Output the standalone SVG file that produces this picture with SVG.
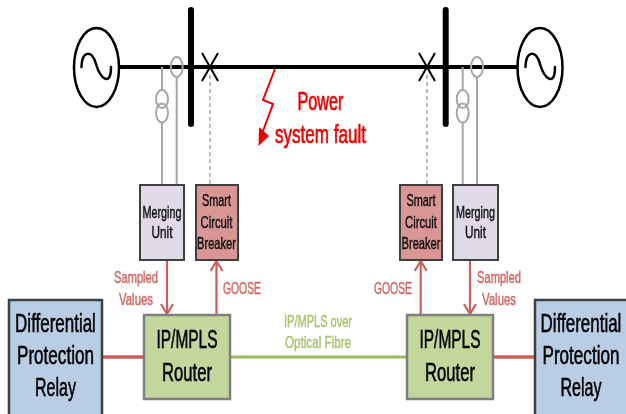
<svg xmlns="http://www.w3.org/2000/svg" width="626" height="414" viewBox="0 0 626 414">
<defs>
<filter id="soft" x="-2%" y="-2%" width="104%" height="104%"><feGaussianBlur stdDeviation="0.45"/></filter>
<marker id="open" viewBox="0 0 14 14" refX="12" refY="7" markerWidth="14" markerHeight="14" markerUnits="userSpaceOnUse" orient="auto"><path d="M2 1 L12 7 L2 13" fill="none" stroke="#c9605c" stroke-width="2.2"/></marker>
</defs>
<style>
text{font-family:"Liberation Sans",Arial,sans-serif;text-anchor:middle}
.gen{fill:#fff;stroke:#000;stroke-width:2.5}
.wave{fill:none;stroke:#000;stroke-width:2.5;stroke-linecap:round}
.bus{stroke:#000;stroke-width:6;stroke-linecap:round}
.line{stroke:#000;stroke-width:4}
.brk{stroke:#000;stroke-width:2}
.ct{fill:none;stroke:#a6a6a6;stroke-width:2}
.ctl{stroke:#a6a6a6;stroke-width:2;fill:none}
.dash{stroke:#a6a6a6;stroke-width:1.5;stroke-dasharray:4 3;fill:none}
.mu{fill:#dfd9e8;stroke:#404040;stroke-width:2}
.cb{fill:#d99694;stroke:#404040;stroke-width:2}
.rt{fill:#c3d69b;stroke:#7f7f7f;stroke-width:2.5}
.rl{fill:#b9cde5;stroke:#404040;stroke-width:2.5}
.arrow{stroke:#c9605c;stroke-width:2.2;fill:none;marker-end:url(#open)}
.red{stroke:#c9605c;stroke-width:3.5}
.grn{stroke:#9bbb59;stroke-width:3}
.t1{font-size:17px;fill:#111;stroke:#111;stroke-width:.45}
.t2{font-size:26px;fill:#000;stroke:#000;stroke-width:.6}
.lr{font-size:17px;fill:#cf6a66;stroke:#cf6a66;stroke-width:.5}
.lg{font-size:17px;fill:#a9c56f;stroke:#a9c56f;stroke-width:.5}
.f{font-size:25px;fill:#f00000;stroke:#f00000;stroke-width:.7}
</style>
<g filter="url(#soft)">
<g id="connectors">
<line class="line" x1="119" y1="67" x2="518" y2="67"/>
<path class="ctl" d="M162 67V90M162 122.500V185M176.700 77V185M462.700 67V90M462.700 122.500V185M477 77V185"/>
<path class="dash" d="M210 75V185M427 75V185"/>
<line class="arrow" x1="167" y1="260" x2="167" y2="314"/>
<line class="arrow" x1="216.500" y1="315" x2="216.500" y2="261"/>
<line class="arrow" x1="420.700" y1="315" x2="420.700" y2="261"/>
<line class="arrow" x1="470" y1="260" x2="470" y2="314"/>
<line class="red" x1="102" y1="357" x2="144" y2="357"/>
<line class="red" x1="493" y1="357" x2="535" y2="357"/>
<line class="grn" x1="230" y1="357" x2="407" y2="357"/>
</g>
<g id="gen-left"><ellipse class="gen" cx="96.500" cy="67.500" rx="22.500" ry="39.500"/><path class="wave" d="M81.500 67C82 50 92 50 96 64S111 88 111 67"/></g>
<g id="gen-right"><ellipse class="gen" cx="540" cy="67.500" rx="22.500" ry="39.500"/><path class="wave" d="M525.500 67C526 50 536 50 540 64S555 88 555 67"/></g>
<g id="bus-left"><line class="bus" x1="191" y1="10" x2="191" y2="124"/></g>
<g id="bus-right"><line class="bus" x1="445.700" y1="10" x2="445.700" y2="124"/></g>
<g id="breaker-left"><path class="brk" d="M202 53L218 81M218 53L202 81"/></g>
<g id="breaker-right"><path class="brk" d="M419 53L435 81M435 53L419 81"/></g>
<g id="ct-left"><ellipse class="ct" cx="176.700" cy="67" rx="6" ry="10"/><ellipse class="ct" cx="162" cy="99" rx="6" ry="9"/><ellipse class="ct" cx="162" cy="113" rx="6" ry="9.500"/></g>
<g id="ct-right"><ellipse class="ct" cx="477" cy="67" rx="6" ry="10"/><ellipse class="ct" cx="462.700" cy="99" rx="6" ry="9"/><ellipse class="ct" cx="462.700" cy="113" rx="6" ry="9.500"/></g>
<g id="fault">
<path d="M275 69L263 100L273 104L263 131" fill="none" stroke="#f00000" stroke-width="2"/>
<path d="M258.500 146L259 127L269 136Z" fill="#f00000"/>
<text class="f" x="320.500" y="110" textLength="46" lengthAdjust="spacingAndGlyphs">Power</text>
<text class="f" x="320.500" y="142.500" textLength="91" lengthAdjust="spacingAndGlyphs">system fault</text>
</g>
<g id="merging-left"><rect class="mu" x="140" y="185" width="44" height="75"/><text class="t1" x="162" y="218" textLength="39" lengthAdjust="spacingAndGlyphs">Merging</text><text class="t1" x="162" y="238" textLength="21" lengthAdjust="spacingAndGlyphs">Unit</text></g>
<g id="breaker-box-left"><rect class="cb" x="196" y="185" width="42" height="75"/><text class="t1" x="216.500" y="206" textLength="29" lengthAdjust="spacingAndGlyphs">Smart</text><text class="t1" x="216.500" y="227.500" textLength="32" lengthAdjust="spacingAndGlyphs">Circuit</text><text class="t1" x="216.500" y="249" textLength="39" lengthAdjust="spacingAndGlyphs">Breaker</text></g>
<g id="breaker-box-right"><rect class="cb" x="400" y="185" width="42" height="75"/><text class="t1" x="421" y="206" textLength="29" lengthAdjust="spacingAndGlyphs">Smart</text><text class="t1" x="421" y="227.500" textLength="32" lengthAdjust="spacingAndGlyphs">Circuit</text><text class="t1" x="421" y="249" textLength="39" lengthAdjust="spacingAndGlyphs">Breaker</text></g>
<g id="merging-right"><rect class="mu" x="453" y="185" width="45" height="75"/><text class="t1" x="475.500" y="218" textLength="39" lengthAdjust="spacingAndGlyphs">Merging</text><text class="t1" x="475.500" y="238" textLength="21" lengthAdjust="spacingAndGlyphs">Unit</text></g>
<g id="router-left"><rect class="rt" x="144" y="315" width="86" height="84"/><text class="t2" x="187" y="348" textLength="61" lengthAdjust="spacingAndGlyphs">IP/MPLS</text><text class="t2" x="187" y="381" textLength="50" lengthAdjust="spacingAndGlyphs">Router</text></g>
<g id="router-right"><rect class="rt" x="407" y="315" width="86" height="84"/><text class="t2" x="450" y="348" textLength="61" lengthAdjust="spacingAndGlyphs">IP/MPLS</text><text class="t2" x="450" y="381" textLength="50" lengthAdjust="spacingAndGlyphs">Router</text></g>
<g id="relay-left"><rect class="rl" x="9" y="300" width="93" height="120"/><text class="t2" transform="translate(55.500 332) scale(.653 1)">Differential</text><text class="t2" transform="translate(55.500 364) scale(.658 1)">Protection</text><text class="t2" transform="translate(55.500 396) scale(.617 1)">Relay</text></g>
<g id="relay-right"><rect class="rl" x="535" y="300" width="100" height="120"/><text class="t2" transform="translate(581 332) scale(.653 1)">Differential</text><text class="t2" transform="translate(581 364) scale(.658 1)">Protection</text><text class="t2" transform="translate(581 396) scale(.617 1)">Relay</text></g>
<g id="labels">
<text class="lr" x="136" y="283" textLength="44" lengthAdjust="spacingAndGlyphs">Sampled</text>
<text class="lr" x="136" y="305" textLength="34" lengthAdjust="spacingAndGlyphs">Values</text>
<text class="lr" x="242" y="294" textLength="38" lengthAdjust="spacingAndGlyphs">GOOSE</text>
<text class="lr" x="393" y="294" textLength="38" lengthAdjust="spacingAndGlyphs">GOOSE</text>
<text class="lr" x="499" y="283" textLength="44" lengthAdjust="spacingAndGlyphs">Sampled</text>
<text class="lr" x="499" y="305" textLength="34" lengthAdjust="spacingAndGlyphs">Values</text>
<text class="lg" x="318" y="327" textLength="68" lengthAdjust="spacingAndGlyphs">IP/MPLS over</text>
<text class="lg" x="318" y="348" textLength="66" lengthAdjust="spacingAndGlyphs">Optical Fibre</text>
</g>
</g>
</svg>
